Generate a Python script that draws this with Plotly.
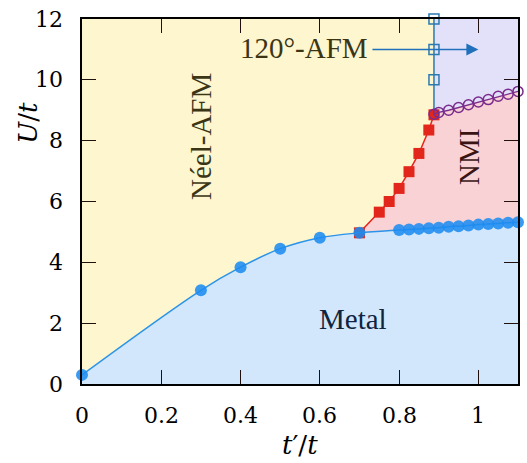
import plotly.graph_objects as go

# ---- data ----
metal_x = [0, 0.3, 0.4, 0.5, 0.6, 0.7, 0.8, 0.825, 0.85, 0.875, 0.9, 0.925, 0.95,
           0.975, 1.0, 1.025, 1.05, 1.075, 1.1]
metal_u = [0.3, 3.08, 3.84, 4.45, 4.81, 4.97, 5.06, 5.08, 5.1, 5.12, 5.14, 5.17, 5.19,
           5.21, 5.24, 5.26, 5.28, 5.3, 5.32]

neel_x = [0.7, 0.75, 0.775, 0.8, 0.825, 0.85, 0.875, 0.888]
neel_u = [4.97, 5.65, 6.0, 6.43, 6.98, 7.58, 8.35, 8.85]

afm_x = [0.888, 0.888, 0.888]
afm_u = [10, 11, 12]

nmi_x = [0.888, 0.9, 0.925, 0.95, 0.975, 1.0, 1.025, 1.05, 1.075, 1.1]
nmi_u = [8.87, 8.93, 9.0, 9.09, 9.18, 9.27, 9.35, 9.46, 9.53, 9.62]

x_ticks = [0, 0.2, 0.4, 0.6, 0.8, 1.0]
x_ticktext = ["0", "0.2", "0.4", "0.6", "0.8", "1"]
y_ticks = [0, 2, 4, 6, 8, 10, 12]
y_ticktext = ["0", "2", "4", "6", "8", "10", "12"]

X_MAX = 1.1
U_MAX = 12

FONT = "Liberation Serif"
SERIF2 = "DejaVu Serif"
YELLOW = "#FDF6CE"
BLUE_FILL = "#D3E7FC"
PINK = "#F8D2D4"
LAVENDER = "#E3E1FA"

fig = go.Figure()

# lavender region (120-AFM)
fig.add_trace(go.Scatter(
    x=nmi_x + [nmi_x[-1], nmi_x[0]],
    y=nmi_u + [U_MAX, U_MAX],
    fill="toself", fillcolor=LAVENDER, mode="none", hoverinfo="skip", showlegend=False))

# pink region (NMI), metal region drawn over its lower part
fig.add_trace(go.Scatter(
    x=neel_x + nmi_x[1:] + [nmi_x[-1], neel_x[0]],
    y=neel_u + nmi_u[1:] + [0, 0],
    fill="toself", fillcolor=PINK, mode="none", hoverinfo="skip", showlegend=False))

# metal region
fig.add_trace(go.Scatter(
    x=metal_x, y=metal_u, fill="tozeroy", fillcolor=BLUE_FILL,
    mode="lines", line=dict(color="rgba(0,0,0,0)", shape="spline", width=0),
    hoverinfo="skip", showlegend=False))

# vertical 120-AFM boundary
fig.add_trace(go.Scatter(
    x=[neel_x[-1], afm_x[-1]], y=[neel_u[-1], afm_u[-1]],
    mode="lines", line=dict(color="#2A7AAE", width=1.5), showlegend=False, cliponaxis=False))

# red Neel boundary
fig.add_trace(go.Scatter(
    x=neel_x, y=neel_u, mode="lines+markers",
    line=dict(color="#E8231E", width=1.5),
    marker=dict(symbol="square", size=11, color="#E3261C"),
    showlegend=False, cliponaxis=False))

# purple NMI / 120-AFM boundary
fig.add_trace(go.Scatter(
    x=nmi_x, y=nmi_u, mode="lines+markers",
    line=dict(color="#7A2C8C", width=1.3),
    marker=dict(symbol="circle-open", size=10, color="#7A2C8C", line=dict(width=1.5)),
    showlegend=False, cliponaxis=False))

# 120-AFM squares
fig.add_trace(go.Scatter(
    x=afm_x, y=afm_u, mode="markers",
    marker=dict(symbol="square-open", size=10, color="#2A7AAE", line=dict(width=1.5)),
    showlegend=False, cliponaxis=False))

# metal boundary
fig.add_trace(go.Scatter(
    x=metal_x, y=metal_u, mode="lines+markers",
    line=dict(color="#2B93E8", width=1.5, shape="spline"),
    marker=dict(symbol="circle", size=12, color="rgba(30,140,240,0.88)"),
    showlegend=False, cliponaxis=False))

axis_common = dict(
    showgrid=False, zeroline=False, showline=True, linecolor="black", linewidth=1.5,
    mirror="ticks", ticks="inside", ticklen=14, tickwidth=1.2, tickcolor="#201010",
    showticklabels=False)

fig.update_xaxes(range=[0, X_MAX], tickvals=x_ticks, **axis_common)
fig.update_yaxes(range=[0, U_MAX], tickvals=y_ticks, **axis_common)

annotations = [
    dict(text="Néel-AFM", x=0.30, y=8.15, xref="x", yref="y", showarrow=False,
         textangle=-90, font=dict(family=FONT, size=29, color="#3B3516")),
    dict(text="NMI", x=0.977, y=7.47, xref="x", yref="y", showarrow=False,
         textangle=-90, font=dict(family=FONT, size=29, color="#3A1414")),
    dict(text="Metal", x=0.683, y=2.13, xref="x", yref="y", showarrow=False,
         font=dict(family=FONT, size=29, color="#0E2440")),
    dict(text="120°-AFM", x=0.56, y=11.05, xref="x", yref="y", showarrow=False,
         font=dict(family=FONT, size=29, color="#3B3516")),
    dict(text="", x=1.0, y=11, ax=0.729, ay=11, xref="x", yref="y",
         axref="x", ayref="y", showarrow=True, arrowhead=2, arrowsize=1.6,
         arrowwidth=1.5, arrowcolor="#2070BC"),
    dict(text="<i>U</i>/<i>t</i>", x=-0.123, y=8.6, xref="paper", yref="y",
         xanchor="center", yanchor="middle", showarrow=False, textangle=-90,
         font=dict(family=SERIF2, size=26, color="black")),
    dict(text="<i>t</i>′/<i>t</i>", x=0.5, y=-0.168, xref="paper", yref="paper",
         xanchor="center", yanchor="middle", showarrow=False,
         font=dict(family=SERIF2, size=26, color="black")),
]

# tick labels (serif), placed on the axes' own scales
for v, t in zip(x_ticks, x_ticktext):
    annotations.append(dict(text=t, x=v, y=-0.085, xref="x", yref="paper",
                            xanchor="center", yanchor="middle", showarrow=False,
                            font=dict(family=SERIF2, size=22, color="black")))
for v, t in zip(y_ticks, y_ticktext):
    annotations.append(dict(text=t, x=-0.04, y=v, xref="paper", yref="y",
                            xanchor="right", yanchor="middle", showarrow=False,
                            font=dict(family=SERIF2, size=22, color="black")))

fig.update_layout(
    width=527, height=463,
    margin=dict(l=82, r=7, t=19, b=79),
    plot_bgcolor=YELLOW, paper_bgcolor="white",
    font=dict(family=FONT),
    annotations=annotations,
)

fig.write_html("out.html")
